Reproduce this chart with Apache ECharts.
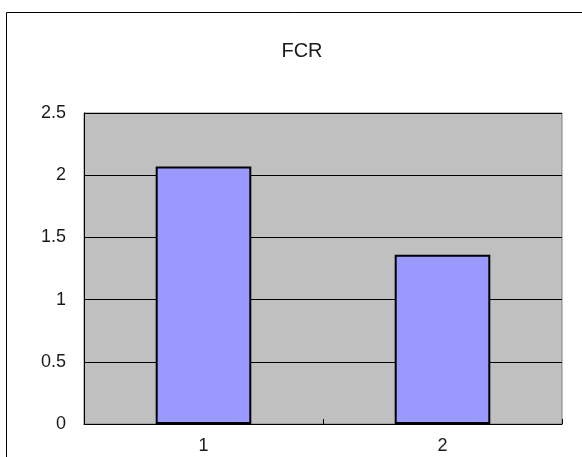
<!DOCTYPE html>
<html><head><meta charset="utf-8">
<script src="https://cdn.jsdelivr.net/npm/echarts@6/dist/echarts.min.js"></script>
<style>html,body{margin:0;padding:0;background:#fff}#c{width:582px;height:457px}</style>
</head><body><div id="c"></div>
<script>
const categories = ['1', '2'];
const fcrValues = [2.07, 1.36];
const titleText = 'FCR';

const FONT = '"Liberation Sans", Arial, sans-serif';
const chart = echarts.init(document.getElementById('c'), null, {renderer: 'canvas'});
chart.setOption({
  animation: false,
  backgroundColor: '#ffffff',
  graphic: [{
    type: 'rect', z: 100, silent: true,
    shape: {x: 6.5, y: 12.5, width: 620, height: 500},
    style: {fill: 'none', stroke: '#000', lineWidth: 1}
  }, {
    type: 'text', z: 100, silent: true,
    x: 302, y: 51,
    style: {text: titleText, font: '20px ' + FONT, fill: '#1a1a1a', align: 'center', verticalAlign: 'middle'}
  }],
  grid: {
    left: 84, top: 113, right: 20, bottom: 33,
    show: true, backgroundColor: '#C0C0C0', borderColor: '#808080', borderWidth: 1
  },
  xAxis: {
    type: 'category', data: categories,
    axisLine: {show: true, lineStyle: {color: '#000', width: 1}},
    axisTick: {show: true, inside: true, length: 5, lineStyle: {color: '#000'}},
    axisLabel: {color: '#1a1a1a', fontSize: 18, margin: 13, fontFamily: FONT},
    splitLine: {show: false}
  },
  yAxis: {
    type: 'value', min: 0, max: 2.5, interval: 0.5,
    axisLine: {show: true, lineStyle: {color: '#000', width: 1}},
    axisTick: {show: true, inside: true, length: 4, lineStyle: {color: '#000'}},
    axisLabel: {color: '#1a1a1a', fontSize: 18, margin: 18, fontFamily: FONT},
    splitLine: {show: true, lineStyle: {color: '#000', width: 1}}
  },
  series: [{
    type: 'bar', data: fcrValues, barWidth: '40%',
    itemStyle: {color: '#9999FF', borderColor: '#000', borderWidth: 2}
  }]
});
</script></body></html>
